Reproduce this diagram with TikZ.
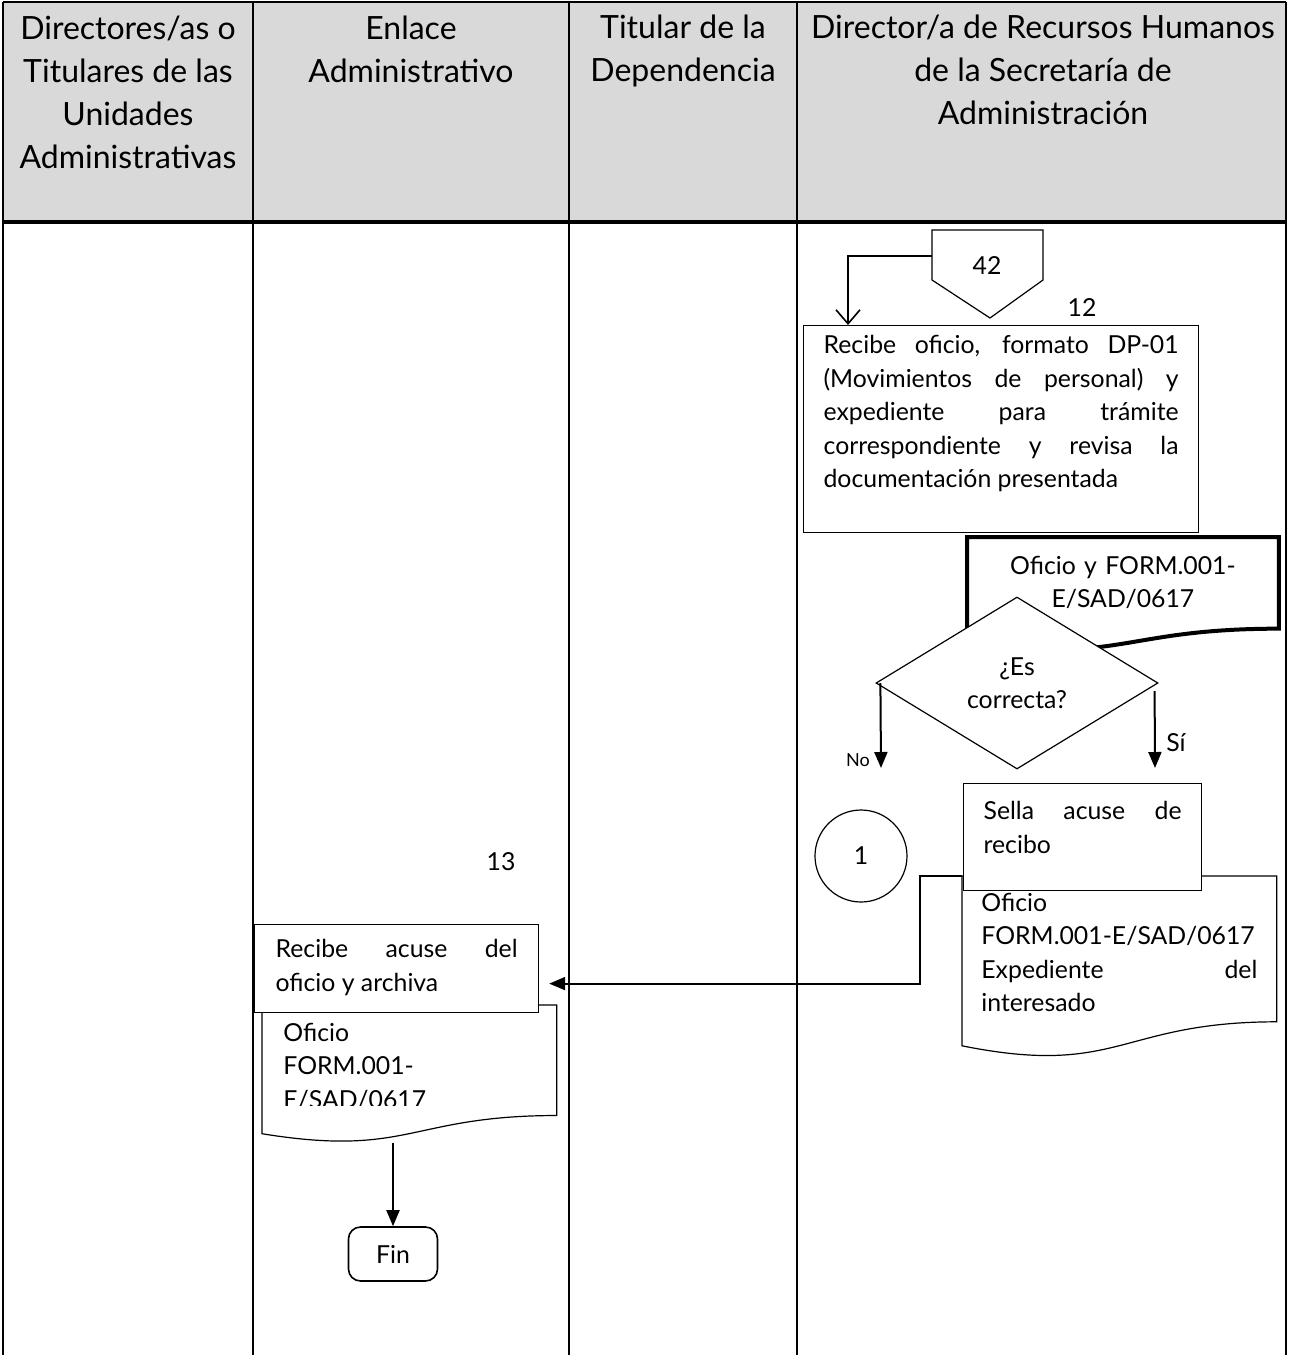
\documentclass[tikz,border=0pt]{standalone}
\usepackage{fontspec}
\setmainfont{Lato}
\usetikzlibrary{arrows.meta,shapes.geometric,calc}

\definecolor{grisencabezado}{RGB}{217,217,217}

% contorno de documento: borde inferior ondulado
\newcommand\documento[2][]{%
  \draw[line width=0.6pt,#1] (#2.north west) -- (#2.north east)
    -- ($(#2.north east)!0.802!(#2.south east)$)
    .. controls ($(#2.north)!0.802!(#2.south)$) and ($(#2.north)!1.108!(#2.south)$)
    .. ($(#2.north west)!0.934!(#2.south west)$) -- cycle;}

\begin{document}
\begin{tikzpicture}[x=0.5pt,y=-0.5pt,
  carril/.style={line width=1pt},
  titulo/.style={font=\fontsize{16}{21.5}\selectfont, align=center, inner sep=0pt},
  texto/.style={font=\fontsize{12.4}{16.75}\selectfont},
  caja/.style={texto, draw, fill=white, line width=0.6pt, inner xsep=10pt, inner ysep=0pt,
    align=justify, anchor=north west},
  hoja/.style={texto, inner xsep=10pt, inner ysep=0pt, align=justify, anchor=north west},
  flecha/.style={line width=1pt, -{Triangle[length=8pt,width=6.5pt]}},
  flechaabierta/.style={line width=0.8pt, -{Straight Barb[length=7pt,width=12pt]}},
  etiqueta/.style={texto, inner sep=0pt}]
\useasboundingbox (0,0) rectangle (1289,1355);

% carriles
\fill[grisencabezado] (3,2) rectangle (1286,222);
\draw[carril] (3,2) -- (1286,2);
\foreach \x in {3,253,569,797,1286}
  \draw[carril] (\x,2) -- (\x,1355);
\draw[line width=1.6pt] (3,222) -- (1286,222);

\node[titulo] (t1) at (128,92) {Directores/as o\\Titulares de las\\Unidades\\Administrativas};
\node[titulo] (t2) at (411,49) {Enlace\\Administrativo};
\node[titulo] (t3) at (683,51) {Titular de la\\Dependencia};
\node[titulo] (t4) at (1043,70) {Director/a de Recursos Humanos\\de la Secretaría de\\Administración};

% conector de pagina 42
\draw[line width=0.6pt] (932,230) -- (1043,230) -- (1043,280) -- (990,318) -- (932,280) -- cycle;
\node[etiqueta] (c42) at (987,266) {42};
\coordinate (c42w) at (932,256);
\node[etiqueta] (n12) at (1082,308) {12};

\node[caja, text width=177.5pt, text height=14pt, text depth=89.5pt] (b12) at (803,325)
  {Recibe oficio, formato DP-01\linebreak (Movimientos de personal) y\linebreak
   expediente para trámite\linebreak correspondiente y revisa la\linebreak
   documentación presentada};
\draw[flechaabierta] (c42w) -| ([xshift=22.5pt]b12.north west);

% documento y decision
\node[hoja, align=center, text width=135.5pt, text height=18.5pt, text depth=38.25pt] (dA) at (967,537)
  {Oficio y FORM.001-\\E/SAD/0617};
\documento[line width=2pt]{dA}
\node[draw, fill=white, diamond, aspect=1.64, inner sep=0pt, minimum width=141pt, minimum height=86pt,
  line width=0.6pt, texto, align=center] (dec) at (1017,683) {¿Es\\correcta?};

\coordinate (no) at (881,768);
\coordinate (si) at (1155,768);
\draw[flecha] ([xshift=2.5pt]dec.west) -- (no);
\draw[flecha] ([xshift=-2pt,yshift=-4pt]dec.east) -- (si);
\node[etiqueta, font=\fontsize{9}{10}\selectfont] (lno) at (858,760) {No};
\node[etiqueta] (lsi) at (1176,743) {Sí};

\node[draw, circle, minimum size=46pt, line width=0.6pt, etiqueta] (con1) at (861,856) {1};

% acuse
\node[hoja, text width=138pt, inner xsep=9.5pt, text height=17.5pt, text depth=73pt] (dB) at (962,876)
  {Oficio\\FORM.001-E/SAD/0617\\Expediente\hfill del\\interesado};
\documento{dB}
\node[caja, text width=99pt, text height=18pt, text depth=35.5pt] (b1s) at (963,783)
  {Sella acuse de\linebreak recibo};

\node[etiqueta] (n13) at (501,862) {13};
\begin{scope}
  \clip (262,1005) rectangle (556,1105.5);
  \node[hoja, text width=126pt, inner xsep=10.5pt, text height=18pt, text depth=50.5pt] (dC) at (262,1005)
    {Oficio\\FORM.001-\\E/SAD/0617};
\end{scope}
\documento{dC}
\node[caja, text width=121pt, inner xsep=10.5pt, text height=16.5pt, text depth=27.5pt] (b13) at (254,924)
  {Recibe acuse del\linebreak oficio y archiva};
\draw[flecha, shorten >=5pt] (dB.north west) -- ++(-42,0) |- ([yshift=-7.5pt]b13.east);

\node[draw, rounded corners=6pt, line width=0.8pt, minimum width=44.5pt, minimum height=27pt,
  etiqueta] (fin) at (393,1254) {Fin};
\draw[flecha] (dC.south -| fin.north) -- (fin.north);
\end{tikzpicture}
\end{document}
